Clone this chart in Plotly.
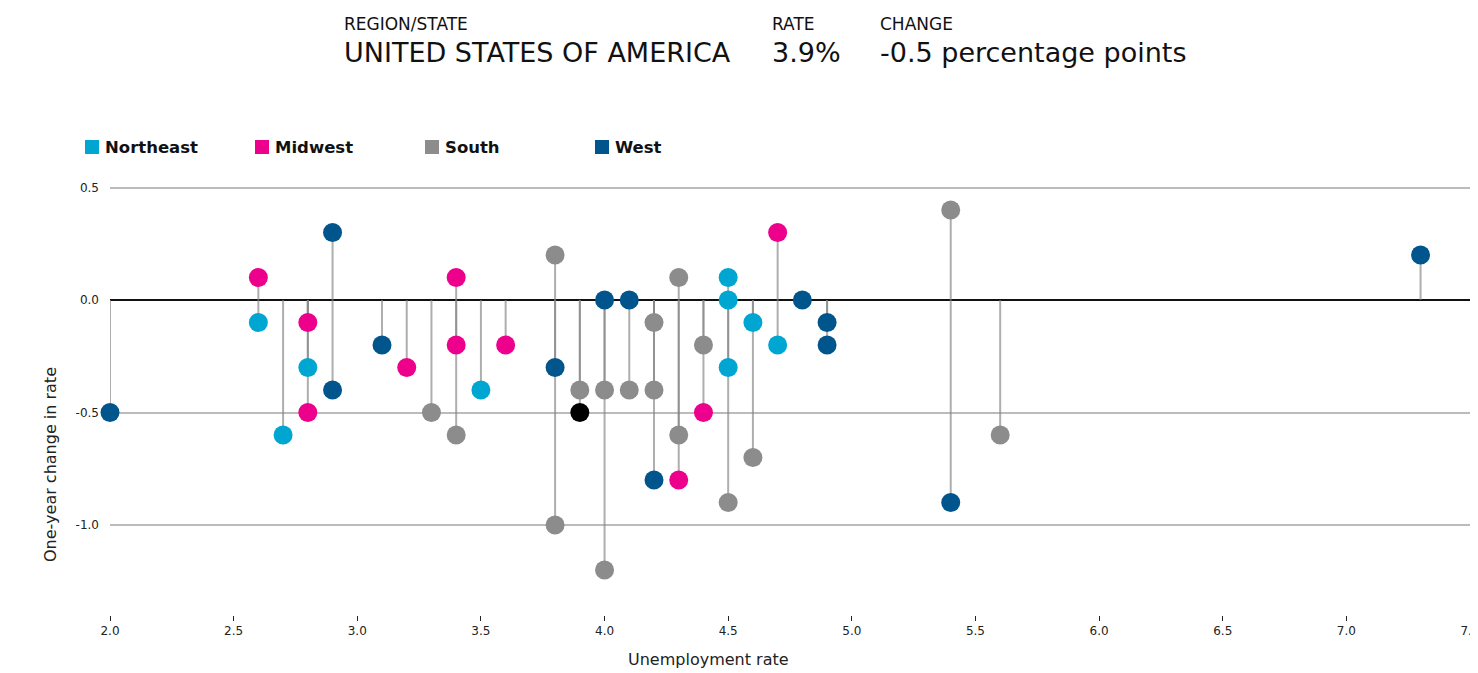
import plotly.graph_objects as go

# ---- data ----
regions = ["Northeast", "Midwest", "South", "West"]
colors = {"Northeast": "#00a6d2", "Midwest": "#ec008c", "South": "#8c8c8c", "West": "#00568c"}

northeast_rate = [2.6, 2.7, 2.8, 3.5, 4.5, 4.5, 4.5, 4.6, 4.7]
northeast_change = [-0.1, -0.6, -0.3, -0.4, 0.1, 0.0, -0.3, -0.1, -0.2]

midwest_rate = [2.6, 2.8, 2.8, 3.2, 3.4, 3.4, 3.6, 4.3, 4.4, 4.7]
midwest_change = [0.1, -0.1, -0.5, -0.3, 0.1, -0.2, -0.2, -0.8, -0.5, 0.3]

south_rate = [3.3, 3.4, 3.8, 3.8, 3.9, 4.0, 4.0, 4.1, 4.2, 4.2, 4.3, 4.3, 4.4, 4.5, 4.6, 5.4, 5.6]
south_change = [-0.5, -0.6, 0.2, -1.0, -0.4, -0.4, -1.2, -0.4, -0.1, -0.4, 0.1, -0.6, -0.2, -0.9, -0.7, 0.4, -0.6]

west_rate = [2.0, 2.9, 2.9, 3.1, 3.8, 4.0, 4.1, 4.2, 4.8, 4.9, 4.9, 5.4, 7.3]
west_change = [-0.5, 0.3, -0.4, -0.2, -0.3, 0.0, 0.0, -0.8, 0.0, -0.1, -0.2, -0.9, 0.2]

usa_rate = [3.9]
usa_change = [-0.5]

series = {
    "Northeast": (northeast_rate, northeast_change),
    "Midwest": (midwest_rate, midwest_change),
    "South": (south_rate, south_change),
    "West": (west_rate, west_change),
}

x_ticks = [2.0, 2.5, 3.0, 3.5, 4.0, 4.5, 5.0, 5.5, 6.0, 6.5, 7.0, 7.5]
y_ticks = [0.5, 0.0, -0.5, -1.0]

FONT = "DejaVu Sans"

fig = go.Figure()

# stems from zero to each value
sx, sy = [], []
for name in regions:
    xs, ys = series[name]
    for a, b in zip(xs, ys):
        sx += [a, a, None]
        sy += [0, b, None]
for a, b in zip(usa_rate, usa_change):
    sx += [a, a, None]
    sy += [0, b, None]
fig.add_trace(go.Scatter(x=sx, y=sy, mode="lines", showlegend=False, hoverinfo="skip",
                         cliponaxis=False,
                         line=dict(color="rgba(130,130,130,0.65)", width=2)))

for name in regions:
    xs, ys = series[name]
    fig.add_trace(go.Scatter(x=xs, y=ys, mode="markers", name=name, showlegend=False,
                             cliponaxis=False,
                             marker=dict(color=colors[name], size=19, line=dict(width=0))))

fig.add_trace(go.Scatter(x=usa_rate, y=usa_change, mode="markers", name="United States of America",
                         showlegend=False, cliponaxis=False,
                         marker=dict(color="#000000", size=19, line=dict(width=0))))

# page has an 8px body margin, so figure pixel = page pixel - 8
OFF = 8
W, H = 1478, 673
L, T = 110 - OFF, 165 - OFF
plot_right, plot_bottom = 1470 - OFF, 615 - OFF
R, B = W - plot_right, H - plot_bottom
pw, ph = plot_right - L, plot_bottom - T


def px_x(p):
    return (p - OFF - L) / pw


def px_y(p):
    return (plot_bottom - (p - OFF)) / ph


annotations = [
    dict(text="REGION/STATE", x=px_x(344), y=px_y(24), font=dict(size=17)),
    dict(text="UNITED STATES OF AMERICA", x=px_x(344), y=px_y(52), font=dict(size=27)),
    dict(text="RATE", x=px_x(772), y=px_y(24), font=dict(size=17)),
    dict(text="3.9%", x=px_x(772), y=px_y(52), font=dict(size=27)),
    dict(text="CHANGE", x=px_x(880), y=px_y(24), font=dict(size=17)),
    dict(text="-0.5 percentage points", x=px_x(880), y=px_y(52), font=dict(size=27)),
]
for a in annotations:
    a.update(xref="paper", yref="paper", xanchor="left", yanchor="middle", showarrow=False,
             xshift=-2)
    a["font"].update(family=FONT, color="#111111")

annotations.append(dict(text="Unemployment rate", xref="paper", yref="paper", x=px_x(708), y=px_y(659),
                        xanchor="center", yanchor="middle", showarrow=False,
                        font=dict(family=FONT, size=16, color="#222222")))
annotations.append(dict(text="One-year change in rate", xref="paper", yref="paper", x=px_x(50), y=px_y(464),
                        xanchor="center", yanchor="middle", showarrow=False, textangle=-90,
                        font=dict(family=FONT, size=16, color="#222222")))

# custom legend: squares + bold labels
shapes = []
legend_left = 85
legend_step = 170
for i, name in enumerate(regions):
    x0 = legend_left + i * legend_step
    shapes.append(dict(type="rect", xref="paper", yref="paper",
                       x0=px_x(x0), x1=px_x(x0 + 14), y0=px_y(154), y1=px_y(140),
                       fillcolor=colors[name], line=dict(width=0)))
    annotations.append(dict(text=f"<b>{name}</b>", xref="paper", yref="paper",
                            x=px_x(x0 + 20), y=px_y(147), xanchor="left", yanchor="middle",
                            showarrow=False, xshift=-2,
                            font=dict(family=FONT, size=16.5, color="#111111")))

fig.update_layout(
    width=W, height=H,
    margin=dict(l=L, r=R, t=T, b=B, autoexpand=False),
    paper_bgcolor="white", plot_bgcolor="white",
    font=dict(family=FONT, color="#222222"),
    annotations=annotations,
    shapes=shapes,
    showlegend=False,
    xaxis=dict(range=[2.0, 7.5], tickvals=x_ticks, ticktext=[f"{v:.1f}" for v in x_ticks],
               showgrid=False, zeroline=False, showline=False, automargin=False,
               ticks="outside", ticklen=5, tickwidth=1, tickcolor="#222222",
               tickfont=dict(family=FONT, size=12, color="#222222")),
    yaxis=dict(range=[-1.4, 0.6], tickvals=y_ticks, ticktext=[f"{v:.1f}" for v in y_ticks],
               showgrid=True, gridcolor="#bbbbbb", gridwidth=1.5, automargin=False,
               zeroline=True, zerolinecolor="#111111", zerolinewidth=2,
               showline=False, ticks="", ticklabelstandoff=10,
               tickfont=dict(family=FONT, size=12, color="#222222")),
)

fig.write_html("out.html")
